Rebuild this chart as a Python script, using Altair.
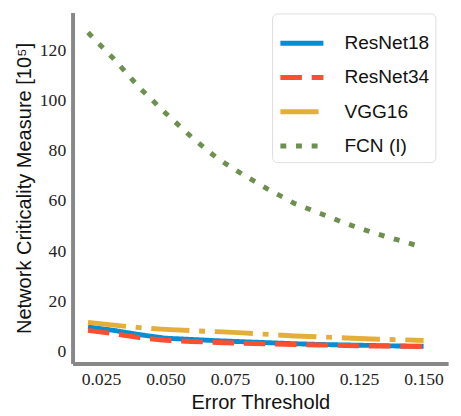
import altair as alt
import pandas as pd

thresholds = [0.02, 0.03, 0.04, 0.05, 0.06, 0.07, 0.08, 0.09, 0.10, 0.11, 0.12, 0.13, 0.14, 0.15]
resnet18 = [9.9, 8.5, 6.8, 5.4, 4.9, 4.4, 4.0, 3.6, 3.2, 2.9, 2.7, 2.5, 2.3, 2.2]
resnet34 = [8.5, 7.2, 5.6, 4.6, 4.1, 3.7, 3.4, 3.1, 2.9, 2.7, 2.5, 2.3, 2.2, 2.1]
vgg16 = [11.7, 10.6, 9.6, 8.9, 8.4, 8.0, 7.5, 6.9, 6.3, 5.9, 5.5, 5.1, 4.8, 4.5]
fcn = [127, 116.5, 105, 95, 85.5, 77, 70.5, 64.5, 59, 55, 51, 47.5, 44.5, 41.5]

series_names = ["ResNet18", "ResNet34", "VGG16", "FCN (I)"]
series_values = [resnet18, resnet34, vgg16, fcn]
colors = ["#008fd5", "#fc4f30", "#e5ae38", "#6d904f"]
dashes = [[1, 0], [22, 10], [39, 10, 6, 10], [6, 10]]

rows = []
for name, vals in zip(series_names, series_values):
    for t, v in zip(thresholds, vals):
        rows.append({"threshold": t, "value": v, "model": name})
df = pd.DataFrame(rows)

x_enc = alt.X("threshold:Q",
              scale=alt.Scale(domain=[0.014, 0.1595], nice=False, zero=False),
              axis=alt.Axis(values=[0.025, 0.05, 0.075, 0.1, 0.125, 0.15], format=".3f",
                            title="Error Threshold"))
y_enc = alt.Y("value:Q",
              scale=alt.Scale(domain=[-4.7, 135], nice=False, zero=False),
              axis=alt.Axis(values=[0, 20, 40, 60, 80, 100, 120],
                            title="Network Criticality Measure [10⁵]"))
color_enc = alt.Color("model:N",
                      scale=alt.Scale(domain=series_names, range=colors),
                      legend=alt.Legend(title=None, orient="none", legendX=204, legendY=1,
                                        symbolType="stroke", symbolSize=1936,
                                        symbolStrokeWidth=5, labelFontSize=19.5,
                                        labelFont="Liberation Sans", labelColor="#111",
                                        labelOffset=19, rowPadding=0, padding=6,
                                        strokeColor="#dddddd", cornerRadius=5,
                                        fillColor="white", labelLimit=200))
dash_enc = alt.StrokeDash("model:N",
                          scale=alt.Scale(domain=series_names, range=dashes),
                          legend=None)

layers = []
for name in series_names:
    layers.append(
        alt.Chart(df).transform_filter(alt.datum.model == name)
        .mark_line(strokeWidth=5, strokeCap="butt")
        .encode(x=x_enc, y=y_enc, color=color_enc, strokeDash=dash_enc)
    )

chart = alt.layer(*layers).properties(
    width=384, height=359,
    autosize=alt.AutoSizeParams(type="none"),
    padding={"left": 66, "top": 0, "right": 5, "bottom": 48},
).configure_view(stroke=None).configure_axis(
    grid=False, ticks=False,
    domainColor="#888888", domainWidth=4,
    labelFont="Liberation Serif", labelFontSize=18, labelColor="#222",
    labelPadding=7,
    titleFont="Liberation Sans", titleFontSize=20.5, titleFontWeight="normal",
    titleColor="#111",
).configure_axisY(titlePadding=5).configure_axisX(titlePadding=5)

chart.save("out.html", embed_options={"renderer": "svg", "actions": False})
